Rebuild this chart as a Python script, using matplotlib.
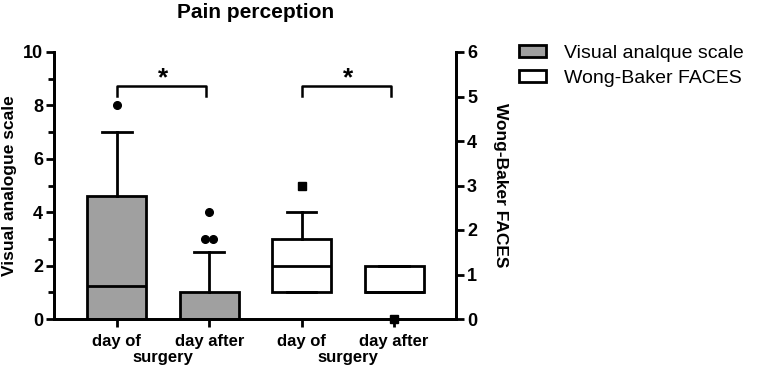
import matplotlib
matplotlib.use("Agg")
import matplotlib.pyplot as plt
from matplotlib.patches import Patch

plt.rcParams['font.family'] = ['Liberation Sans', 'DejaVu Sans']

title = "Pain perception"
tick_labels = ["day of", "day after", "day of", "day after"]
group_label = "surgery"
legend_labels = ["Visual analque scale", "Wong-Baker FACES"]

# Visual analogue scale (left axis, 0-10)
vas_q1 = [0, 0]
vas_med = [1.25, 0]
vas_q3 = [4.6, 1]
vas_whislo = [0, 0]
vas_whishi = [7, 2.5]
vas_fliers = [[8], [3, 3, 4]]

# Wong-Baker FACES (right axis, 0-6)
wb_q1 = [0.6, 0.6]
wb_med = [1.2, 0.6]
wb_q3 = [1.8, 1.2]
wb_whislo = [0.6, 0.6]
wb_whishi = [2.4, 1.2]
wb_fliers = [[3.0], [0]]

sig_pairs = [(1, 2), (3, 4)]
sig_text = ["*", "*"]

fig = plt.figure(figsize=(7.67, 3.67), dpi=100)
ax = fig.add_axes([54/767, 1-319/367, (456-54)/767, (319-52)/367])
ax2 = ax.twinx()

def stats(q1, med, q3, lo, hi):
    return [dict(q1=a, med=b, q3=c, whislo=d, whishi=e, fliers=[])
            for a, b, c, d, e in zip(q1, med, q3, lo, hi)]

lw = 2
common = dict(widths=0.64, patch_artist=True, showfliers=False, manage_ticks=False,
              medianprops=dict(color='black', lw=lw),
              whiskerprops=dict(color='black', lw=lw),
              capprops=dict(color='black', lw=lw),
              capwidths=0.32)
ax.bxp(stats(vas_q1, vas_med, vas_q3, vas_whislo, vas_whishi), positions=[1, 2],
       boxprops=dict(facecolor='#a0a0a0', edgecolor='black', lw=lw), **common)
ax2.bxp(stats(wb_q1, wb_med, wb_q3, wb_whislo, wb_whishi), positions=[3, 4],
        boxprops=dict(facecolor='white', edgecolor='black', lw=lw), **common)

def draw_fliers(a, pos, fl, marker):
    for p, vals in zip(pos, fl):
        counts = {}
        for v in vals:
            counts[v] = counts.get(v, 0) + 1
        for v, n in counts.items():
            offs = [(i - (n - 1) / 2) * 0.09 for i in range(n)]
            for o in offs:
                a.plot(p + o, v, marker=marker, color='black', ms=5.5, clip_on=False, zorder=5)

draw_fliers(ax, [1, 2], vas_fliers, 'o')
draw_fliers(ax2, [3, 4], wb_fliers, 's')

ax.set_xlim(0.32, 4.67)
ax.set_ylim(0, 10)
ax2.set_ylim(0, 6)

# significance brackets
for (a, b), t in zip(sig_pairs, sig_text):
    y0, y1 = 8.35, 8.72
    ax.plot([a, a, b - 0.03, b - 0.03], [y0, y1, y1, y0], color='black', lw=1.8)
    ax.text((a + b) / 2, y1 - 0.15, t, ha='center', va='bottom', fontsize=19, fontweight='bold')

ax.set_xticks([1, 2, 3, 4])
ax.set_xticklabels(tick_labels, fontsize=12, fontweight='bold')
for x in [1.5, 3.5]:
    ax.text(x, -0.146, group_label, transform=ax.get_xaxis_transform(), ha='center', va='center',
            fontsize=12, fontweight='bold')

ax.set_yticks([0, 2, 4, 6, 8, 10])
ax.set_yticks([1, 3, 5, 7, 9], minor=True)
ax2.set_yticks([0, 1, 2, 3, 4, 5, 6])
for a in (ax, ax2):
    a.spines['top'].set_visible(False)
    for s in a.spines.values():
        s.set_linewidth(2)
    a.tick_params(width=2, length=6, direction='out')
    a.tick_params(which='minor', width=2, length=4)
ax.tick_params(axis='y', labelsize=13, pad=2)
ax.tick_params(axis='x', pad=5)
ax2.tick_params(axis='y', labelsize=13, pad=2)
for lab in ax.get_yticklabels() + ax2.get_yticklabels():
    lab.set_fontweight('bold')

ax.set_ylabel("Visual analogue scale", fontsize=12.5, fontweight='bold', labelpad=4)
ax2.set_ylabel("Wong-Baker FACES", fontsize=12.5, fontweight='bold', rotation=270, labelpad=22)
fig.text(256/767, 1-12/367, title, ha='center', va='center', fontsize=15, fontweight='bold')

handles = [Patch(facecolor='#a0a0a0', edgecolor='black', lw=2),
           Patch(facecolor='white', edgecolor='black', lw=2)]
fig.legend(handles, legend_labels, loc='upper left', bbox_to_anchor=(511/767, 1-37/367),
           frameon=False, fontsize=14, handlelength=1.4, handleheight=0.6,
           handletextpad=0.9, labelspacing=0.4, borderaxespad=0)

fig.savefig("out.png", dpi=100)
